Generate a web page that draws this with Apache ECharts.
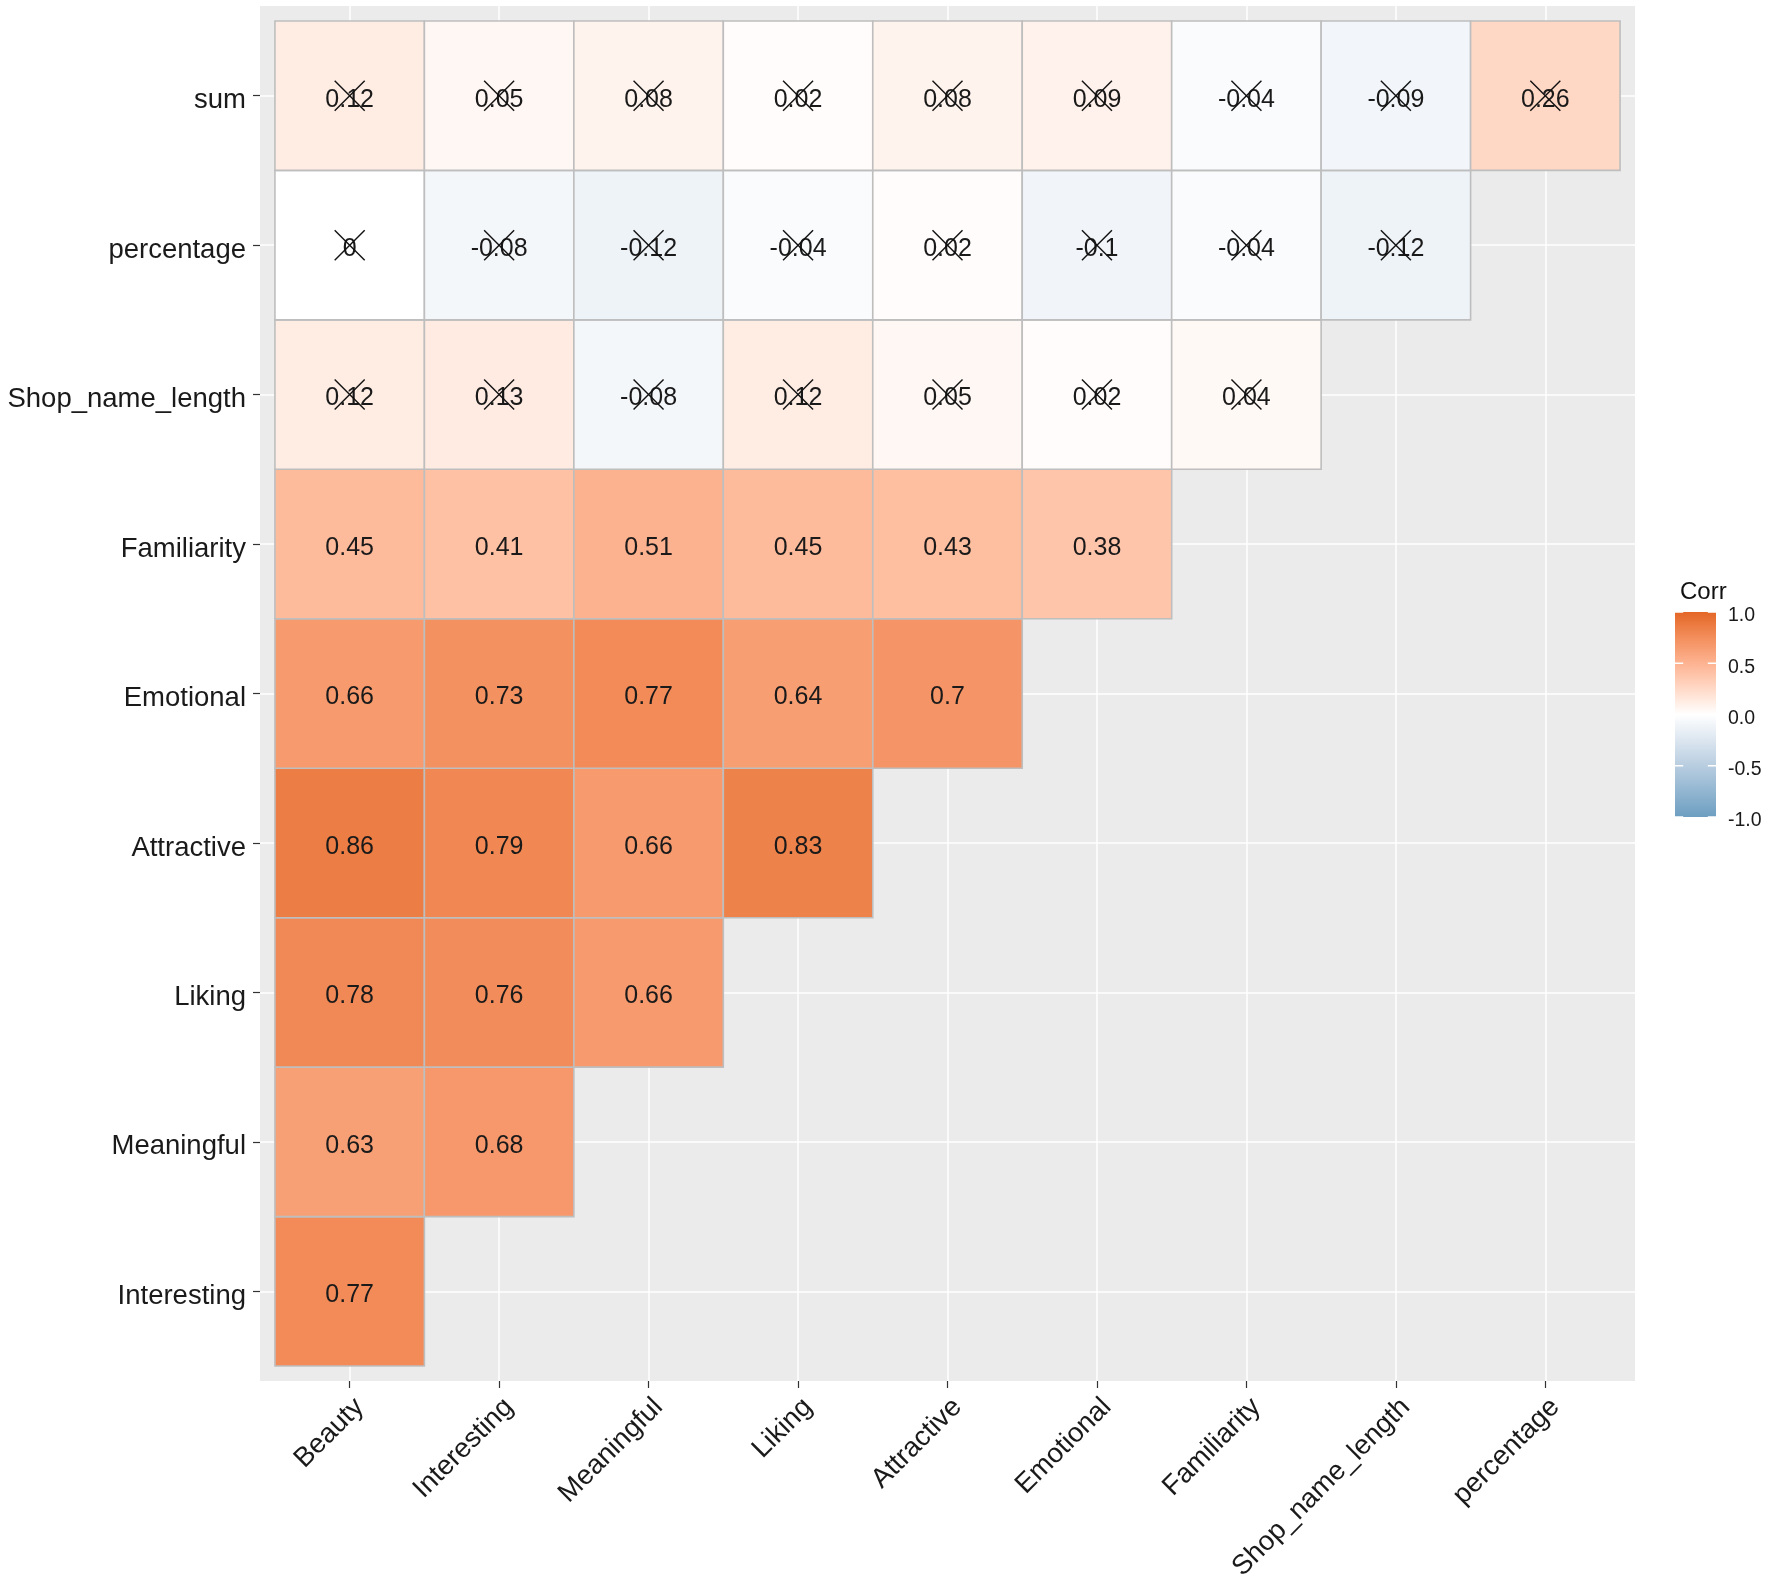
<!DOCTYPE html>
<html lang="en">
<head>
    <meta charset="utf-8">
    <script src="https://cdn.jsdelivr.net/npm/echarts@6/dist/echarts.min.js"></script>
    <style>
        html, body { margin: 0; padding: 0; background: #fff; }
        #chart { width: 1772px; height: 1588px; }
    </style>
</head>
<body>
<div id="chart"></div>

<script type="text/javascript">
    // columns (x, left to right) and rows (y, bottom to top)
    var xCats = ['Beauty', 'Interesting', 'Meaningful', 'Liking', 'Attractive',
        'Emotional', 'Familiarity', 'Shop_name_length', 'percentage'];
    var yCats = ['Interesting', 'Meaningful', 'Liking', 'Attractive', 'Emotional',
        'Familiarity', 'Shop_name_length', 'percentage', 'sum'];

    // lower triangle of the correlation matrix, one array per row
    var rInteresting = [0.77];
    var rMeaningful = [0.63, 0.68];
    var rLiking = [0.78, 0.76, 0.66];
    var rAttractive = [0.86, 0.79, 0.66, 0.83];
    var rEmotional = [0.66, 0.73, 0.77, 0.64, 0.7];
    var rFamiliarity = [0.45, 0.41, 0.51, 0.45, 0.43, 0.38];
    var rShopNameLength = [0.12, 0.13, -0.08, 0.12, 0.05, 0.02, 0.04];
    var rPercentage = [0, -0.08, -0.12, -0.04, 0.02, -0.1, -0.04, -0.12];
    var rSum = [0.12, 0.05, 0.08, 0.02, 0.08, 0.09, -0.04, -0.09, 0.26];

    // rows whose coefficients are not significant (crossed out)
    var insigRows = ['Shop_name_length', 'percentage', 'sum'];

    var legendBreaks = [-1, -0.5, 0, 0.5, 1];

    var rows = [rInteresting, rMeaningful, rLiking, rAttractive, rEmotional,
        rFamiliarity, rShopNameLength, rPercentage, rSum];

    var cells = [];
    rows.forEach(function (vals, yi) {
        var insig = insigRows.indexOf(yCats[yi]) >= 0 ? 1 : 0;
        vals.forEach(function (v, xi) {
            cells.push([xi, yi, v, insig]);
        });
    });

    // gradient2 low / mid / high, with Lab-like intermediate stops
    var corrColors = ['#6D9EC1', '#92B6D1', '#B8CDE0', '#DCE6F0', '#FFFFFF',
        '#FFD9C7', '#FDB391', '#F38E5C', '#E46726'];

    var FONT = '"Liberation Sans", Arial, Helvetica, sans-serif';
    var idx = xCats.map(function (d, i) { return i; });

    function fmt(v) {
        return String(Math.round(v * 100) / 100);
    }

    function renderTile(params, api) {
        var x = api.value(0), y = api.value(1), v = api.value(2), insig = api.value(3);
        var p0 = api.coord([x - 0.5, y + 0.5]);
        var p1 = api.coord([x + 0.5, y - 0.5]);
        var c = api.coord([x, y]);
        var children = [{
            type: 'rect',
            shape: {x: p0[0], y: p0[1], width: p1[0] - p0[0], height: p1[1] - p0[1]},
            style: {fill: api.visual('color'), stroke: '#BEBEBE', lineWidth: 1.6}
        }, {
            type: 'text',
            style: {
                text: fmt(v), x: c[0], y: c[1] + 4, align: 'center', verticalAlign: 'middle',
                fill: '#1A1A1A', font: '25px ' + FONT
            }
        }];
        if (insig) {
            var h = 15;
            children.push({
                type: 'line',
                shape: {x1: c[0] - h, y1: c[1] - h, x2: c[0] + h, y2: c[1] + h},
                style: {stroke: '#111', lineWidth: 1.4}
            }, {
                type: 'line',
                shape: {x1: c[0] - h, y1: c[1] + h, x2: c[0] + h, y2: c[1] - h},
                style: {stroke: '#111', lineWidth: 1.4}
            });
        }
        return {type: 'group', children: children};
    }

    function renderBar(params, api) {
        var top = api.coord([0, 1]);
        var bot = api.coord([1, -1]);
        var w = bot[0] - top[0];
        var stops = corrColors.map(function (col, i) {
            return {offset: 1 - i / (corrColors.length - 1), color: col};
        });
        var children = [{
            type: 'rect',
            shape: {x: top[0], y: top[1], width: w, height: bot[1] - top[1]},
            style: {fill: new echarts.graphic.LinearGradient(0, 0, 0, 1, stops.reverse())}
        }];
        legendBreaks.forEach(function (b) {
            var p = api.coord([0, b]);
            children.push({
                type: 'line', shape: {x1: top[0], y1: p[1], x2: top[0] + w / 5, y2: p[1]},
                style: {stroke: '#fff', lineWidth: 1.5}
            }, {
                type: 'line', shape: {x1: bot[0] - w / 5, y1: p[1], x2: bot[0], y2: p[1]},
                style: {stroke: '#fff', lineWidth: 1.5}
            });
        });
        return {type: 'group', children: children};
    }

    var chart = echarts.init(document.getElementById('chart'));

    var axisCommon = {
        type: 'value',
        min: -0.6,
        max: 8.6,
        axisLine: {show: false, onZero: false},
        axisTick: {show: true, customValues: idx, length: 7, lineStyle: {color: '#333', width: 1.2}},
        splitLine: {show: true, lineStyle: {color: '#FFFFFF', width: 1.5}},
        minorSplitLine: {show: false}
    };

    var option = {
        backgroundColor: '#FFFFFF',
        animation: false,
        title: {
            text: 'Corr',
            left: 1675,
            top: 575,
            textStyle: {fontFamily: FONT, fontSize: 24, fontWeight: 'normal', color: '#111'}
        },
        grid: [{
            left: 260, right: 137, top: 6, bottom: 207,
            show: true, backgroundColor: '#EBEBEB', borderWidth: 0
        }, {
            left: 1675, width: 41, top: 612, height: 205
        }],
        xAxis: [Object.assign({}, axisCommon, {
            gridIndex: 0,
            position: 'bottom',
            axisLabel: {
                customValues: idx, rotate: 45, margin: 12,
                verticalAlign: 'top',
                formatter: function (v) { return xCats[v]; },
                fontFamily: FONT, fontSize: 27.5, color: '#1A1A1A'
            }
        }), {
            gridIndex: 1, type: 'value', min: 0, max: 1, show: false
        }],
        yAxis: [Object.assign({}, axisCommon, {
            gridIndex: 0,
            axisLabel: {
                customValues: idx, margin: 14,
                formatter: function (v) { return '{t|' + yCats[v] + '}'; },
                rich: {
                    t: {
                        padding: [10, 0, 0, 0],
                        fontFamily: FONT, fontSize: 27.5, color: '#1A1A1A'
                    }
                }
            }
        }), {
            gridIndex: 1, type: 'value', min: -1, max: 1, interval: 0.5,
            position: 'right',
            axisLine: {show: false},
            axisTick: {show: false},
            splitLine: {show: false},
            axisLabel: {
                margin: 12,
                formatter: function (v) { return '{t|' + v.toFixed(1) + '}'; },
                rich: {
                    t: {
                        padding: [8, 0, 0, 0],
                        fontFamily: FONT, fontSize: 19.5, color: '#1A1A1A'
                    }
                }
            }
        }],
        visualMap: {
            show: false,
            type: 'continuous',
            seriesIndex: 0,
            dimension: 2,
            min: -1,
            max: 1,
            inRange: {color: corrColors}
        },
        series: [{
            type: 'custom',
            xAxisIndex: 0,
            yAxisIndex: 0,
            renderItem: renderTile,
            encode: {x: 0, y: 1},
            data: cells
        }, {
            type: 'custom',
            xAxisIndex: 1,
            yAxisIndex: 1,
            renderItem: renderBar,
            data: [[0, 0]]
        }]
    };

    chart.setOption(option);
</script>
</body>
</html>
